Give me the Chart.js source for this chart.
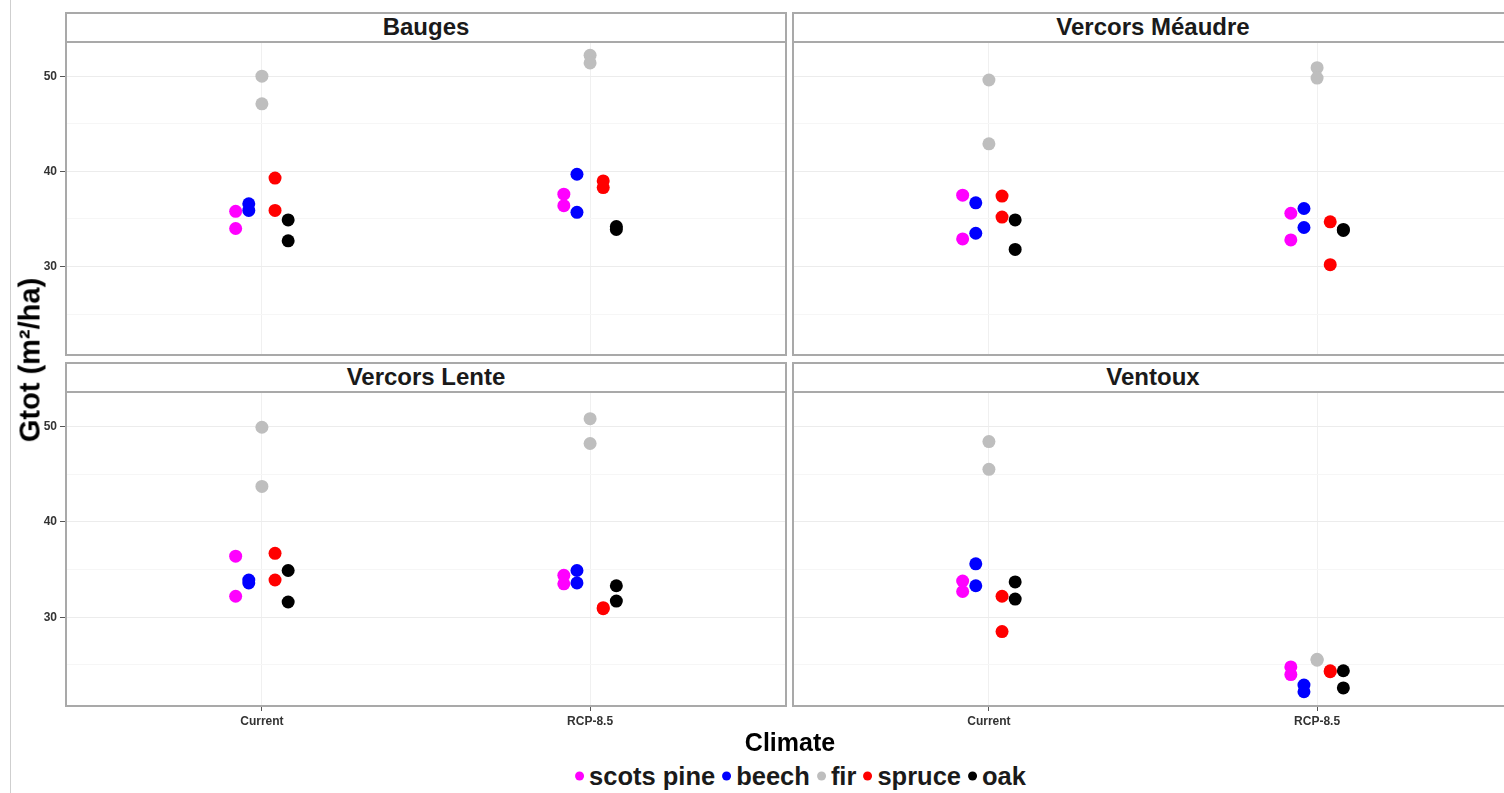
<!DOCTYPE html>
<html>
<head>
<meta charset="utf-8">
<script src="https://cdn.jsdelivr.net/npm/chart.js@4"></script>
<style>
  body { margin: 0; background: #fff; }
  #page { position: relative; width: 1504px; height: 793px; overflow: hidden; background: #fff;
          font-family: "Liberation Sans", Arial, sans-serif; }
  #page canvas { position: absolute; }
  .frame { position: absolute; left: 10px; top: 0; width: 1px; height: 793px; background: #cfcfcf; }
  .strip { position: absolute; box-sizing: border-box; border: 2px solid #a9a9a9; background: #fff;
           text-align: center; font-weight: bold; font-size: 24px; line-height: 26px; color: #1a1a1a; }
  .ytitle { position: absolute; left: 30px; top: 360px; transform: translate(-50%, -50%) rotate(-90deg);
            font-weight: bold; font-size: 29px; white-space: nowrap; color: #000; }
  .xtitle { position: absolute; left: 790px; top: 742px; transform: translate(-50%, -50%);
            font-weight: bold; font-size: 25px; color: #000; }
  #legend { position: absolute; left: 797px; top: 776px; transform: translate(-50%, -50%);
            display: flex; align-items: center; white-space: nowrap; font-weight: bold; font-size: 25.5px; color: #1a1a1a; }
  #legend .dot { display: inline-block; width: 9px; height: 9px; border-radius: 50%; margin: 0 5px 0 7px; }
</style>
</head>
<body>
<div id="page">
  <div class="frame"></div>
  <canvas id="c_tl"></canvas>
  <canvas id="c_tr"></canvas>
  <canvas id="c_bl"></canvas>
  <canvas id="c_br"></canvas>
  <div class="strip" style="left:65px;top:12px;width:722px;height:31px;">Bauges</div>
  <div class="strip" style="left:792px;top:12px;width:722px;height:31px;">Vercors Méaudre</div>
  <div class="strip" style="left:65px;top:362px;width:722px;height:31px;">Vercors Lente</div>
  <div class="strip" style="left:792px;top:362px;width:722px;height:31px;">Ventoux</div>
  <div class="ytitle">Gtot (m²/ha)</div>
  <div class="xtitle">Climate</div>
  <div id="legend"></div>
</div>
<script>
// categories
var climates = ['Current', 'RCP-8.5'];
var species = ['scots pine', 'beech', 'fir', 'spruce', 'oak'];
var speciesColors = ['#ff00ff', '#0000ff', '#bebebe', '#ff0000', '#000000'];
var yTicks = [25, 30, 35, 40, 45, 50];

// values per site and climate, one pair per species (scots pine, beech, fir, spruce, oak)
var baugesCurrent  = [[35.8, 34.0], [36.6, 35.9], [50.0, 47.1], [39.3, 35.9], [34.9, 32.7]];
var baugesRcp      = [[37.6, 36.4], [39.7, 35.7], [52.2, 51.4], [39.0, 38.3], [34.2, 33.9]];
var meaudreCurrent = [[37.5, 32.9], [36.7, 33.5], [49.6, 42.9], [37.4, 35.2], [34.9, 31.8]];
var meaudreRcp     = [[35.6, 32.8], [36.1, 34.1], [50.9, 49.8], [34.7, 30.2], [33.9, 33.8]];
var lenteCurrent   = [[36.4, 32.2], [33.9, 33.6], [49.9, 43.7], [36.7, 33.9], [34.9, 31.6]];
var lenteRcp       = [[34.4, 33.5], [34.9, 33.6], [50.8, 48.2], [31.0, 30.9], [33.3, 31.7]];
var ventouxCurrent = [[33.8, 32.7], [35.6, 33.3], [48.4, 45.5], [32.2, 28.5], [33.7, 31.9]];
var ventouxRcp     = [[24.8, 24.0], [22.9, 22.2], [25.6, 25.5], [24.4, 24.3], [24.4, 22.6]];

var dodge = 0.04; // like position_dodge(width = 0.2) with 5 groups

function buildDatasets(current, rcp) {
    var byClimate = [current, rcp];
    return species.map(function (name, s) {
        var pts = [];
        byClimate.forEach(function (vals, c) {
            vals[s].forEach(function (v) {
                pts.push({ x: c + 1 + (s - 2) * dodge, y: v });
            });
        });
        return {
            label: name,
            data: pts,
            backgroundColor: speciesColors[s],
            borderWidth: 0,
            pointRadius: 6.5,
            pointHoverRadius: 6.5
        };
    });
}

// panel border drawn around the plot area
var borderPlugin = {
    id: 'panelBorder',
    afterDraw: function (chart) {
        var a = chart.chartArea, ctx = chart.ctx;
        ctx.save();
        ctx.strokeStyle = '#a9a9a9';
        ctx.lineWidth = 2;
        ctx.strokeRect(a.left + 1, a.top + 1, a.right - a.left - 2, a.bottom - a.top - 2);
        ctx.restore();
    }
};

function noPad(scale) {
    scale.paddingTop = 0; scale.paddingBottom = 0;
    scale.paddingLeft = 0; scale.paddingRight = 0;
}

function makePanel(id, left, top, width, height, current, rcp, showY, showX) {
    var cv = document.getElementById(id);
    cv.width = width; cv.height = height;
    cv.style.left = left + 'px'; cv.style.top = top + 'px';
    return new Chart(cv.getContext('2d'), {
        type: 'scatter',
        data: { datasets: buildDatasets(current, rcp) },
        plugins: [borderPlugin],
        options: {
            responsive: false,
            animation: false,
            layout: { padding: 0, autoPadding: false },
            plugins: { legend: { display: false }, tooltip: { enabled: false } },
            scales: {
                x: {
                    type: 'linear', min: 0.4, max: 2.6,
                    afterBuildTicks: function (scale) {
                        scale.ticks = climates.map(function (c, i) { return { value: i + 1 }; });
                    },
                    afterFit: function (scale) { scale.height = showX ? 28 : 0; noPad(scale); },
                    border: { display: false },
                    grid: { color: '#f0f0f0', lineWidth: 1, drawTicks: showX, tickLength: 4, tickColor: '#555' },
                    ticks: {
                        display: showX, padding: 3, color: '#333',
                        font: { family: 'Liberation Sans', size: 12, weight: 'bold' },
                        callback: function (v) { return climates[Math.round(v) - 1]; }
                    }
                },
                y: {
                    type: 'linear', min: 20.6, max: 53.7,
                    afterBuildTicks: function (scale) {
                        scale.ticks = yTicks.map(function (v) { return { value: v }; });
                    },
                    afterFit: function (scale) { scale.width = showY ? 65 : 0; noPad(scale); },
                    border: { display: false },
                    grid: {
                        color: function (ctx) { return ctx.tick && ctx.tick.value % 10 === 0 ? '#ececec' : '#f6f6f6'; },
                        lineWidth: 1,
                        drawTicks: showY, tickLength: 5,
                        tickColor: function (ctx) { return ctx.tick && ctx.tick.value % 10 === 0 ? '#555' : 'rgba(0,0,0,0)'; }
                    },
                    ticks: {
                        display: showY, padding: 3, color: '#333',
                        font: { family: 'Liberation Sans', size: 12, weight: 'bold' },
                        callback: function (v) { return v % 10 === 0 ? String(v) : ''; }
                    }
                }
            }
        }
    });
}

makePanel('c_tl', 0, 41, 787, 315, baugesCurrent, baugesRcp, true, false);
makePanel('c_tr', 792, 41, 722, 315, meaudreCurrent, meaudreRcp, false, false);
makePanel('c_bl', 0, 391, 787, 344, lenteCurrent, lenteRcp, true, true);
makePanel('c_br', 792, 391, 722, 344, ventouxCurrent, ventouxRcp, false, true);

// legend
var legend = document.getElementById('legend');
species.forEach(function (name, s) {
    var dot = document.createElement('span');
    dot.className = 'dot';
    dot.style.background = speciesColors[s];
    var txt = document.createElement('span');
    txt.textContent = name;
    legend.appendChild(dot);
    legend.appendChild(txt);
});
</script>
</body>
</html>
